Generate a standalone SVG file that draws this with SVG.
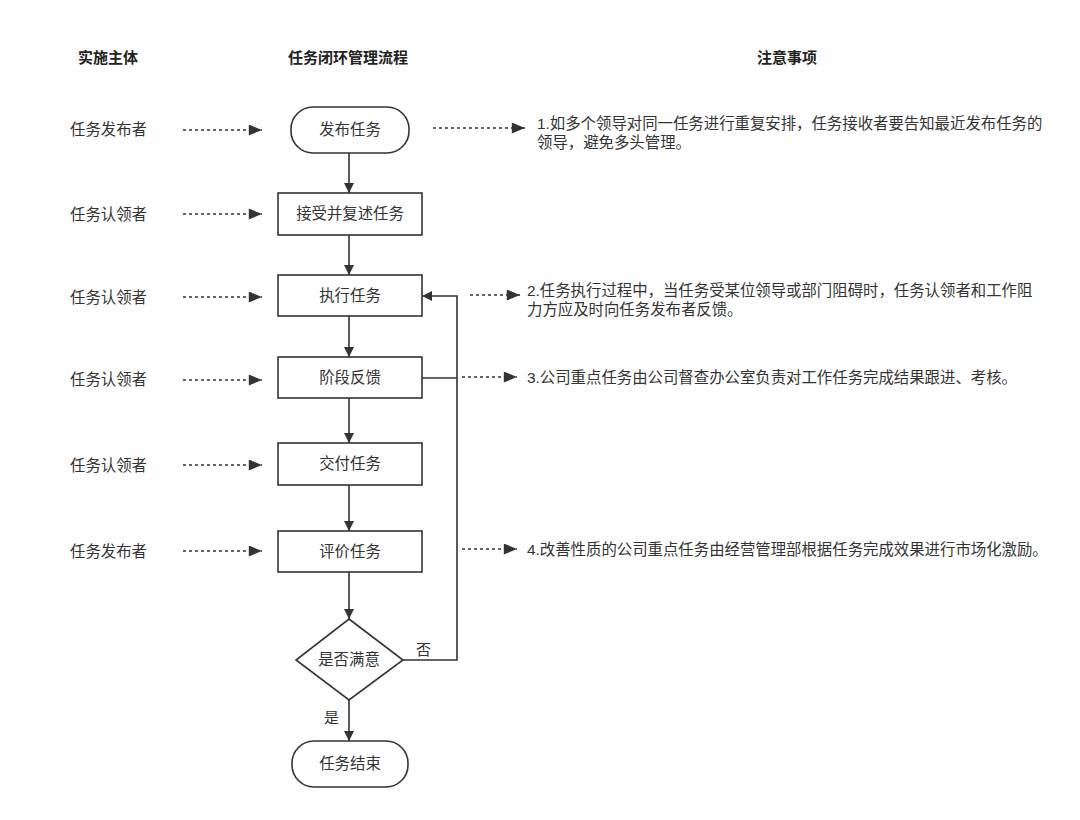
<svg xmlns="http://www.w3.org/2000/svg" width="1080" height="820" viewBox="0 0 1080 820">
<style>
text{font-family:"Liberation Sans","Noto Sans CJK SC",sans-serif;font-size:15px;fill:#333}
.h{font-weight:bold;fill:#222}
.c{text-anchor:middle}
.t{font-size:15.4px}
.n{fill:#fff;stroke:#333;stroke-width:1.6}
.e{fill:none;stroke:#333;stroke-width:1.6}
.d{fill:none;stroke:#333;stroke-width:1.4;stroke-dasharray:3 3}
</style>
<defs>
<marker id="a" viewBox="0 0 10 10" refX="10" refY="5" markerWidth="10" markerHeight="10" markerUnits="userSpaceOnUse" orient="auto"><path d="M0,0 L10,5 L0,10 z" fill="#333"/></marker>
<marker id="b" viewBox="0 0 12 10" refX="12" refY="5" markerWidth="14" markerHeight="11" markerUnits="userSpaceOnUse" orient="auto"><path d="M0,0 L12,5 L0,10 z" fill="#333"/></marker>
</defs>
<rect width="1080" height="820" fill="#fff"/>
<g id="headers">
<text class="h c" x="108" y="63">实施主体</text>
<text class="h c" x="348" y="63">任务闭环管理流程</text>
<text class="h c" x="787" y="63">注意事项</text>
</g>
<g id="actors">
<text class="t" x="70" y="135">任务发布者</text>
<text class="t" x="70" y="220">任务认领者</text>
<text class="t" x="70" y="303">任务认领者</text>
<text class="t" x="70" y="385">任务认领者</text>
<text class="t" x="70" y="471">任务认领者</text>
<text class="t" x="70" y="557">任务发布者</text>
</g>
<g id="connectors">
<path class="d" d="M183,130 H262" marker-end="url(#b)"/>
<path class="d" d="M183,214 H262" marker-end="url(#b)"/>
<path class="d" d="M183,297 H262" marker-end="url(#b)"/>
<path class="d" d="M183,380 H262" marker-end="url(#b)"/>
<path class="d" d="M183,465 H262" marker-end="url(#b)"/>
<path class="d" d="M183,551 H262" marker-end="url(#b)"/>
<path class="d" d="M433,128 H525" marker-end="url(#b)"/>
<path class="d" d="M470,295 H520" marker-end="url(#b)"/>
<path class="d" d="M462,377 H517" marker-end="url(#b)"/>
<path class="d" d="M462,549 H517" marker-end="url(#b)"/>
<path class="e" d="M349,153 V193" marker-end="url(#a)"/>
<path class="e" d="M349,235 V275" marker-end="url(#a)"/>
<path class="e" d="M349,316 V357" marker-end="url(#a)"/>
<path class="e" d="M349,398 V443" marker-end="url(#a)"/>
<path class="e" d="M349,485 V531" marker-end="url(#a)"/>
<path class="e" d="M349,572 V619" marker-end="url(#a)"/>
<path class="e" d="M349,700 V741" marker-end="url(#a)"/>
<path class="e" d="M403,660 H457 V296 H422" marker-end="url(#a)"/>
<path class="e" d="M422,378 H457"/>
<text x="416" y="655">否</text>
<text x="324" y="723">是</text>
</g>
<g id="n-start"><rect class="n" x="291" y="107" width="118" height="46" rx="22"/><text class="c t" x="350" y="135">发布任务</text></g>
<g id="n-accept"><rect class="n" x="278" y="193" width="144" height="42"/><text class="c t" x="350" y="219">接受并复述任务</text></g>
<g id="n-exec"><rect class="n" x="278" y="275" width="144" height="41"/><text class="c t" x="350" y="301">执行任务</text></g>
<g id="n-feedback"><rect class="n" x="278" y="357" width="144" height="41"/><text class="c t" x="350" y="383">阶段反馈</text></g>
<g id="n-deliver"><rect class="n" x="278" y="443" width="144" height="42"/><text class="c t" x="350" y="469">交付任务</text></g>
<g id="n-eval"><rect class="n" x="278" y="531" width="144" height="41"/><text class="c t" x="350" y="557">评价任务</text></g>
<g id="n-decide"><path class="n" d="M349,619 L403,660 L349,700 L296,660 z"/><text class="c t" x="349" y="665">是否满意</text></g>
<g id="n-end"><rect class="n" x="292" y="741" width="116" height="46" rx="22"/><text class="c t" x="350" y="769">任务结束</text></g>
<g id="notes">
<text class="t" x="537" y="129">1.如多个领导对同一任务进行重复安排，任务接收者要告知最近发布任务的</text>
<text class="t" x="537" y="148">领导，避免多头管理。</text>
<text class="t" x="527" y="296">2.任务执行过程中，当任务受某位领导或部门阻碍时，任务认领者和工作阻</text>
<text class="t" x="527" y="315">力方应及时向任务发布者反馈。</text>
<text class="t" x="527" y="383">3.公司重点任务由公司督查办公室负责对工作任务完成结果跟进、考核。</text>
<text class="t" x="527" y="555">4.改善性质的公司重点任务由经营管理部根据任务完成效果进行市场化激励。</text>
</g>
</svg>
